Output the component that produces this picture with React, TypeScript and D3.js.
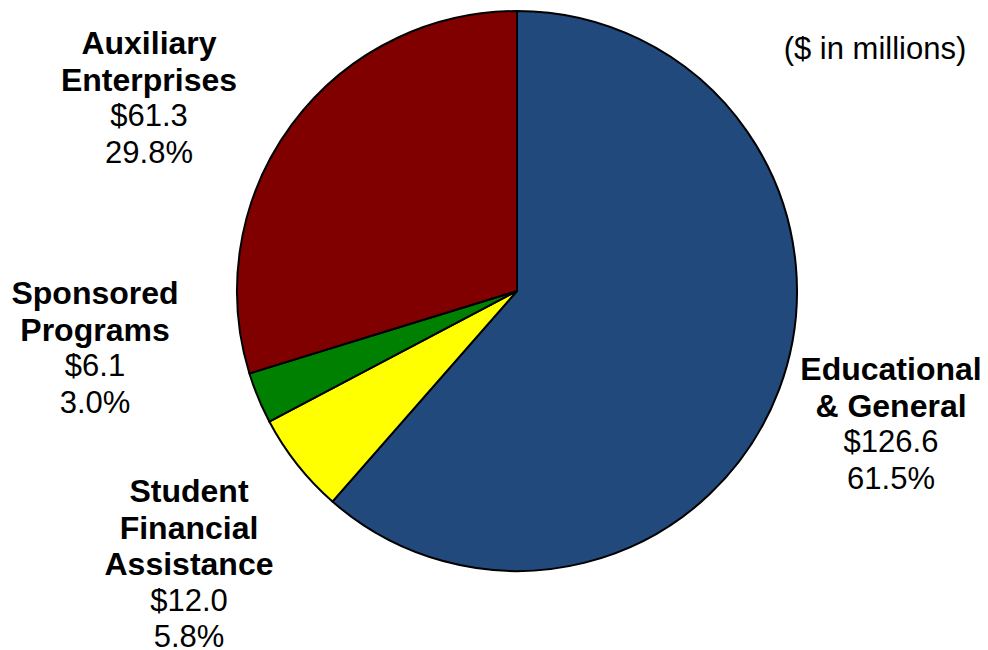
import React from "react";
import * as d3 from "d3";

const categories = ["Educational & General", "Student Financial Assistance", "Sponsored Programs", "Auxiliary Enterprises"];
const values = [126.6, 12.0, 6.1, 61.3];
const percents = ["61.5%", "5.8%", "3.0%", "29.8%"];
const labelLines = [["Educational", "& General"], ["Student", "Financial", "Assistance"], ["Sponsored", "Programs"], ["Auxiliary", "Enterprises"]];
const colors = ["#21497B", "#FFFF00", "#008000", "#800000"];

const W = 988, H = 650;
const cx = 517, cy = 291, R = 280;
const FONT = "Liberation Sans, Arial, sans-serif";
const FS = 31;
const FSB = 32;
const LH = 36.3;
// label anchor: x center, y of first line center
const labelPos = [
  { x: 891, y: 369 },
  { x: 189, y: 491 },
  { x: 95, y: 293 },
  { x: 149, y: 43 },
];

export default function App() {
  const pie = d3.pie<number>().sort(null).value((d) => d);
  const arcs = pie(values);
  const arc = d3.arc<d3.PieArcDatum<number>>().innerRadius(0).outerRadius(R);
  return (
    <svg width={W} height={H} style={{ position: "absolute", left: 0, top: 0, background: "#fff" }}>
      <g transform={`translate(${cx},${cy})`}>
        {arcs.map((a, i) => (
          <path key={i} d={arc(a) || ""} fill={colors[i]} stroke="#000" strokeWidth={2} strokeLinejoin="round" />
        ))}
      </g>
      {categories.map((c, i) => {
        const lines = [...labelLines[i].map((t) => ({ t, b: true })), { t: "$" + values[i].toFixed(1), b: false }, { t: percents[i], b: false }];
        return (
          <g key={c}>
            {lines.map((l, j) => (
              <text key={j} x={labelPos[i].x} y={labelPos[i].y + j * LH} dy="0.35em" textAnchor="middle"
                fontFamily={FONT} fontSize={l.b ? FSB : FS} fontWeight={l.b ? "bold" : "normal"} fill="#000">{l.t}</text>
            ))}
          </g>
        );
      })}
      <text x={875} y={48} dy="0.35em" textAnchor="middle" fontFamily={FONT} fontSize={FS} fill="#000">($ in millions)</text>
    </svg>
  );
}
